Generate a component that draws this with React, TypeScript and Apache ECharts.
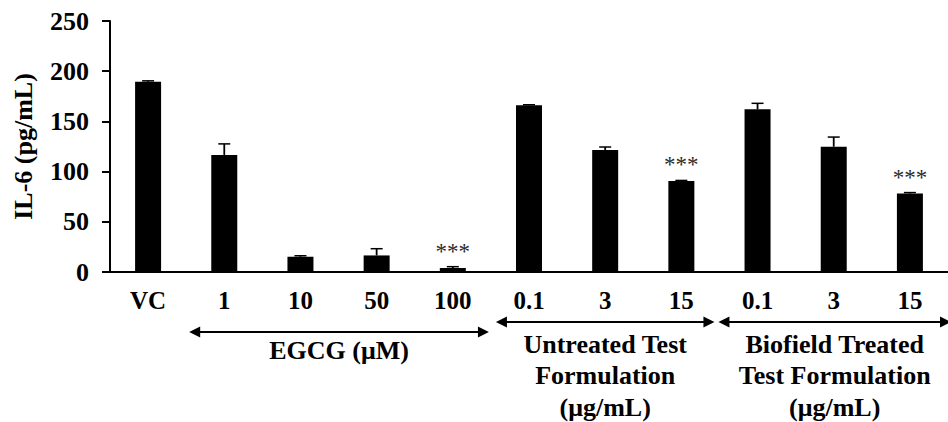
import React, { useEffect, useRef } from "react";
import * as echarts from "echarts";

// ---- data ----
const categories = ["VC", "1", "10", "50", "100", "0.1", "3", "15", "0.1", "3", "15"];
const il6Values = [189.4, 116.6, 15.2, 16.5, 4.0, 166.2, 121.5, 90.7, 162.0, 124.8, 78.1];
const il6Errors = [1.0, 11.0, 1.0, 6.7, 1.3, 0.4, 3.0, 0.5, 6.0, 9.6, 1.0];
const significance = ["", "", "", "", "***", "", "", "***", "", "", "***"];
const yTicks = { min: 0, max: 250, interval: 50 };
const groupLabels = [
  "EGCG (μM)",
  "Untreated Test\nFormulation\n(μg/mL)",
  "Biofield Treated\nTest Formulation\n(μg/mL)",
];
const groupFrom = [1, 5, 8];
const groupTo = [4, 7, 10];

// ---- layout / style (not data) ----
const groupArrowDy = [60, 50, 50];
const groupInsetL = [3, 5, -1];
const groupInsetR = [2, 5, -3];
const groupTextDy = [3, 6.5, 6.5];

const FONT = "Liberation Serif";

export default function App() {
  const ref = useRef<HTMLDivElement>(null);

  useEffect(() => {
    if (!ref.current) return;
    const chart = echarts.init(ref.current, undefined, { renderer: "svg" });

    const errData = il6Values.map((v, i) => [i, v, il6Errors[i]]);
    const groupData = groupFrom.map((f, i) => [f, groupTo[i], i]);

    chart.setOption({
      animation: false,
      backgroundColor: "#ffffff",
      textStyle: { fontFamily: FONT },
      grid: { left: 110, right: -2, top: 21, bottom: 150, containLabel: false },
      xAxis: {
        type: "category",
        data: categories,
        boundaryGap: true,
        axisLine: { lineStyle: { color: "#000", width: 2 } },
        axisTick: { show: false },
        axisLabel: {
          color: "#000",
          fontFamily: FONT,
          fontWeight: "bold",
          fontSize: 25,
          margin: 16,
          interval: 0,
        },
      },
      yAxis: {
        type: "value",
        min: yTicks.min,
        max: yTicks.max,
        interval: yTicks.interval,
        name: "IL-6 (pg/mL)",
        nameLocation: "middle",
        nameGap: 74,
        nameTextStyle: {
          color: "#000",
          fontFamily: FONT,
          fontWeight: "bold",
          fontSize: 26,
        },
        axisLine: { show: true, lineStyle: { color: "#000", width: 2 } },
        axisTick: { show: true, inside: false, length: 8, lineStyle: { color: "#000", width: 2 } },
        splitLine: { show: false },
        axisLabel: {
          color: "#000",
          fontFamily: FONT,
          fontWeight: "bold",
          fontSize: 26,
          margin: 21,
        },
      },
      series: [
        {
          type: "bar",
          data: il6Values,
          barWidth: 26,
          itemStyle: { color: "#000" },
          z: 2,
        },
        {
          type: "custom",
          data: errData,
          encode: { x: 0, y: 1 },
          z: 3,
          clip: false,
          renderItem: (params: any, api: any) => {
            const idx = api.value(0);
            const v = api.value(1);
            const e = api.value(2);
            const base = api.coord([idx, v]);
            const top = api.coord([idx, v + e]);
            const cap = 6;
            const children: any[] = [
              {
                type: "line",
                shape: { x1: base[0], y1: base[1], x2: top[0], y2: top[1] },
                style: { stroke: "#000", lineWidth: 1.8 },
              },
              {
                type: "line",
                shape: { x1: top[0] - cap, y1: top[1], x2: top[0] + cap, y2: top[1] },
                style: { stroke: "#000", lineWidth: 1.5 },
              },
            ];
            const sig = significance[params.dataIndex];
            if (sig) {
              children.push({
                type: "text",
                style: {
                  text: sig,
                  x: top[0],
                  y: top[1] - 15.5,
                  align: "center",
                  verticalAlign: "middle",
                  fontFamily: FONT,
                  fontSize: 23,
                  fill: "#2a2a2a",
                },
              });
            }
            return { type: "group", children };
          },
        },
        {
          type: "custom",
          data: groupData,
          encode: { x: [0, 1] },
          z: 4,
          clip: false,
          silent: true,
          renderItem: (params: any, api: any) => {
            const gi = params.dataIndex;
            const from = api.value(0);
            const to = api.value(1);
            const band = api.size([1, 0])[0];
            const p0 = api.coord([from, 0]);
            const p1 = api.coord([to, 0]);
            const x1 = p0[0] - band / 2 + groupInsetL[gi];
            const x2 = p1[0] + band / 2 - groupInsetR[gi];
            const y = p0[1] + groupArrowDy[gi];
            const hl = 11;
            const hw = 5.5;
            return {
              type: "group",
              children: [
                {
                  type: "line",
                  shape: { x1: x1 + 4, y1: y, x2: x2 - 4, y2: y },
                  style: { stroke: "#000", lineWidth: 2 },
                },
                {
                  type: "polygon",
                  shape: { points: [[x1, y], [x1 + hl, y - hw], [x1 + hl, y + hw]] },
                  style: { fill: "#000" },
                },
                {
                  type: "polygon",
                  shape: { points: [[x2, y], [x2 - hl, y - hw], [x2 - hl, y + hw]] },
                  style: { fill: "#000" },
                },
                {
                  type: "text",
                  style: {
                    text: groupLabels[gi],
                    x: (x1 + x2) / 2,
                    y: y + groupTextDy[gi],
                    align: "center",
                    verticalAlign: "top",
                    fontFamily: FONT,
                    fontWeight: "bold",
                    fontSize: 26,
                    lineHeight: 31.5,
                    fill: "#000",
                  },
                },
              ],
            };
          },
        },
      ],
    });

    return () => {
      chart.dispose();
    };
  }, []);

  return (
    <div
      ref={ref}
      style={{ position: "fixed", left: 0, top: 0, width: 948, height: 422, background: "#fff" }}
    />
  );
}
